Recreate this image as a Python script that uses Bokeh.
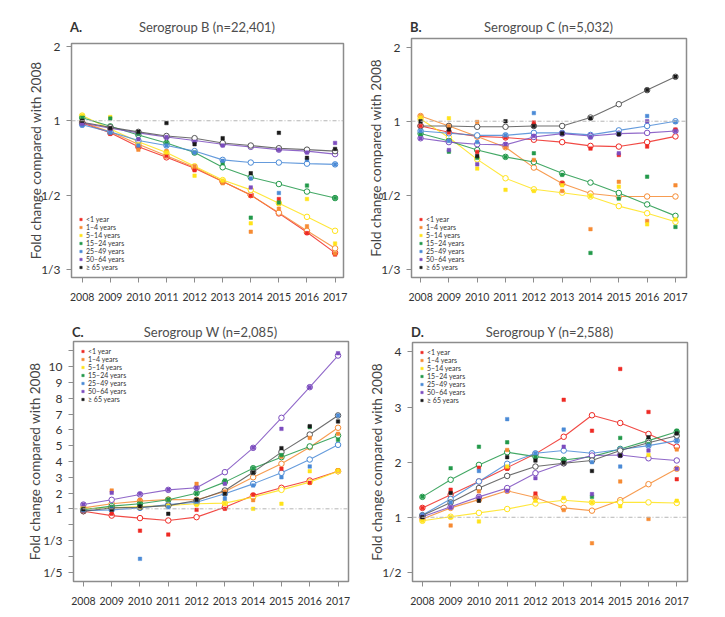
import numpy as np
from bokeh.plotting import figure
from bokeh.models import Range1d, FixedTicker, Span, Legend, LegendItem, Div
from bokeh.layouts import row, column
from bokeh.embed import file_html
from bokeh.resources import INLINE

years = [2008, 2009, 2010, 2011, 2012, 2013, 2014, 2015, 2016, 2017]
groups = ["<1 year", "1–4 years", "5–14 years", "15–24 years", "25–49 years", "50–64 years", "≥ 65 years"]
colors = ["#EE2A24", "#F68B33", "#FFE31A", "#22994A", "#4A8AD6", "#7C4DBF", "#1a1a1a"]
line_colors = ["#EE2A24", "#F68B33", "#FFE31A", "#22994A", "#4A8AD6", "#7C4DBF", "#555555"]

# ---- Panel A: Serogroup B (fold change vs 2008) ----
b_fit_u1 = [0.97, 0.86, 0.74, 0.67, 0.61, 0.55, 0.50, 0.445, 0.40, 0.36]
b_fit_1_4 = [0.98, 0.87, 0.76, 0.68, 0.615, 0.55, 0.50, 0.447, 0.403, 0.368]
b_fit_5_14 = [1.07, 0.90, 0.78, 0.70, 0.62, 0.556, 0.518, 0.474, 0.436, 0.403]
b_fit_15_24 = [1.04, 0.93, 0.84, 0.77, 0.70, 0.615, 0.568, 0.54, 0.512, 0.49]
b_fit_25_49 = [0.95, 0.87, 0.79, 0.75, 0.71, 0.655, 0.64, 0.64, 0.634, 0.63]
b_fit_50_64 = [0.97, 0.91, 0.86, 0.82, 0.79, 0.76, 0.74, 0.72, 0.71, 0.69]
b_fit_65 = [0.98, 0.92, 0.87, 0.83, 0.81, 0.77, 0.75, 0.73, 0.72, 0.71]
b_obs_u1 = [0.97, 0.85, 0.74, 0.68, 0.60, 0.547, 0.498, 0.487, 0.398, 0.357]
b_obs_1_4 = [1.01, 0.90, 0.72, 0.71, 0.62, 0.543, 0.401, 0.458, 0.413, 0.359]
b_obs_5_14 = [1.07, 1.05, 0.76, 0.70, 0.575, 0.554, 0.42, 0.473, 0.487, 0.377]
b_obs_15_24 = [1.04, 1.03, 0.85, 0.77, 0.70, 0.636, 0.434, 0.476, 0.534, 0.49]
b_obs_25_49 = [0.94, 0.86, 0.75, 0.75, 0.70, 0.65, 0.563, 0.507, 0.655, 0.63]
b_obs_50_64 = [0.96, 0.90, 0.80, 0.82, 0.78, 0.75, 0.527, 0.72, 0.70, 0.77]
b_obs_65 = [1.00, 0.91, 0.87, 0.97, 0.76, 0.81, 0.586, 0.86, 0.667, 0.725]

# ---- Panel B: Serogroup C ----
c_fit_u1 = [0.94, 0.87, 0.83, 0.82, 0.80, 0.78, 0.75, 0.745, 0.78, 0.83]
c_fit_1_4 = [1.07, 0.94, 0.83, 0.74, 0.615, 0.543, 0.506, 0.496, 0.496, 0.496]
c_fit_5_14 = [1.03, 0.82, 0.66, 0.565, 0.521, 0.509, 0.496, 0.466, 0.446, 0.424]
c_fit_15_24 = [0.857, 0.79, 0.72, 0.675, 0.645, 0.587, 0.547, 0.508, 0.471, 0.439]
c_fit_25_49 = [0.884, 0.86, 0.84, 0.84, 0.864, 0.864, 0.844, 0.89, 0.94, 1.0]
c_fit_50_64 = [0.813, 0.78, 0.763, 0.758, 0.825, 0.857, 0.834, 0.857, 0.864, 0.884]
c_fit_65 = [0.94, 0.94, 0.93, 0.93, 0.94, 0.94, 1.05, 1.23, 1.42, 1.60]
c_obs_u1 = [0.94, 0.867, 0.707, 0.82, 0.982, 0.545, 0.73, 0.687, 0.745, 0.90]
c_obs_1_4 = [1.07, 0.937, 0.99, 0.74, 0.657, 0.515, 0.407, 0.55, 0.426, 0.536]
c_obs_5_14 = [1.05, 1.04, 0.61, 0.519, 0.515, 0.536, 0.498, 0.531, 0.418, 0.43]
c_obs_15_24 = [0.85, 0.709, 0.669, 0.675, 0.698, 0.58, 0.36, 0.489, 0.572, 0.412]
c_obs_25_49 = [0.884, 0.79, 0.78, 0.84, 1.11, 0.864, 0.828, 0.86, 1.07, 0.99]
c_obs_50_64 = [0.813, 0.72, 0.632, 0.763, 0.834, 0.857, 0.82, 0.698, 1.0, 0.884]
c_obs_65 = [1.0, 0.90, 0.68, 1.0, 0.94, 0.857, 1.04, 0.85, 1.42, 1.60]

# ---- Panel C: Serogroup W ----
w_fit_u1 = [0.87, 0.70, 0.63, 0.575, 0.655, 1.1, 1.84, 2.33, 2.79, 3.38]
w_fit_1_4 = [1.06, 1.32, 1.49, 1.59, 1.57, 2.10, 3.0, 3.85, 4.90, 6.13]
w_fit_5_14 = [1.0, 1.06, 1.15, 1.21, 1.32, 1.36, 1.74, 2.2, 2.69, 3.38]
w_fit_15_24 = [0.94, 1.17, 1.32, 1.57, 1.99, 2.69, 3.57, 4.27, 4.95, 5.64]
w_fit_25_49 = [0.90, 0.94, 1.06, 1.27, 1.42, 1.95, 2.58, 3.28, 4.12, 5.05]
w_fit_50_64 = [1.27, 1.57, 1.91, 2.2, 2.33, 3.32, 4.86, 6.76, 8.70, 10.70]
w_fit_65 = [0.87, 1.06, 1.1, 1.2, 1.53, 2.16, 3.32, 4.59, 5.70, 6.91]
w_obs_u1 = [0.87, 0.76, 0.42, 0.38, 0.94, 1.0, 1.89, 3.53, 2.65, 3.43]
w_obs_1_4 = [1.0, 2.16, 1.57, 1.57, 2.58, 2.1, 1.55, 4.3, 5.49, 5.75]
w_obs_5_14 = [1.06, 1.06, 1.1, 1.2, 1.28, 1.36, 1.0, 1.32, 3.38, 3.43]
w_obs_15_24 = [0.94, 1.1, 1.32, 1.57, 1.99, 2.79, 3.57, 4.4, 6.17, 5.37]
w_obs_25_49 = [0.9, 1.0, 0.24, 1.1, 1.45, 1.63, 2.48, 3.0, 3.68, 6.9]
w_obs_50_64 = [1.27, 2.01, 1.95, 2.2, 2.33, 2.58, 4.86, 6.06, 8.7, 10.85]
w_obs_65 = [0.97, 0.95, 1.15, 0.76, 1.57, 1.95, 3.3, 4.84, 6.23, 6.53]

# ---- Panel D: Serogroup Y ----
y_fit_u1 = [1.17, 1.41, 1.65, 1.9, 2.15, 2.46, 2.85, 2.71, 2.51, 2.28]
y_fit_1_4 = [0.97, 1.17, 1.32, 1.48, 1.36, 1.17, 1.12, 1.31, 1.60, 1.88]
y_fit_5_14 = [0.94, 1.01, 1.08, 1.15, 1.25, 1.31, 1.27, 1.27, 1.27, 1.26]
y_fit_15_24 = [1.37, 1.68, 1.95, 2.18, 2.10, 2.04, 2.10, 2.24, 2.39, 2.55]
y_fit_25_49 = [1.04, 1.33, 1.65, 1.97, 2.16, 2.21, 2.16, 2.23, 2.30, 2.39]
y_fit_50_64 = [1.01, 1.19, 1.37, 1.53, 1.80, 1.98, 2.12, 2.13, 2.07, 2.03]
y_fit_65 = [1.03, 1.27, 1.53, 1.75, 1.92, 1.98, 2.03, 2.21, 2.35, 2.48]
y_obs_u1 = [1.17, 1.5, 1.9, 1.88, 1.43, 3.13, 2.57, 3.69, 2.91, 1.69]
y_obs_1_4 = [0.97, 0.87, 1.47, 2.22, 1.35, 1.13, 0.68, 1.65, 0.97, 2.23]
y_obs_5_14 = [0.94, 1.0, 0.93, 1.92, 1.30, 1.35, 1.27, 1.2, 2.13, 1.3]
y_obs_15_24 = [1.37, 1.89, 2.28, 2.36, 2.1, 2.04, 1.37, 2.44, 2.33, 2.57]
y_obs_25_49 = [1.04, 1.27, 1.84, 2.78, 2.16, 2.59, 2.0, 1.92, 2.3, 2.39]
y_obs_50_64 = [1.01, 1.18, 1.36, 1.48, 1.71, 2.28, 1.42, 2.12, 2.21, 1.88]
y_obs_65 = [1.0, 1.44, 1.30, 2.09, 2.03, 1.99, 1.84, 2.12, 2.45, 2.52]

# y tick values and labels
ab_ticks = [2, 1, 1/2, 1/3]
ab_labels = ["2", "1", "1/2", "1/3"]
w_ticks = [11, 10, 9, 8, 7, 6, 5, 4, 3, 2, 1, 1/2, 1/3, 1/4, 1/5]
w_labels = ["", "10", "9", "8", "7", "6", "5", "4", "3", "2", "1", "", "1/3", "", "1/5"]
yy_ticks = [4, 3, 2, 1, 1/2]
yy_labels = ["4", "3", "2", "1", "1/2"]

FONT = "Lato"


def tf(v):
    """symmetric fold-change scale: x-1 above 1, 1-1/x below 1"""
    v = np.asarray(v, dtype=float)
    return np.round(np.where(v >= 1, v - 1, 1 - 1 / v), 6)


def header(letter, title, w, l, r, top, hh):
    html = (
        f'<div style="position:relative;width:{w}px;height:{hh}px;font-family:Lato,sans-serif;">'
        f'<span style="position:absolute;left:{l - 1}px;top:{top}px;font-size:13px;line-height:14px;'
        f'font-weight:bold;color:#333333;">{letter}</span>'
        f'<span style="position:absolute;left:{l}px;width:{w - l - r}px;top:{top}px;font-size:13px;'
        f'line-height:14px;text-align:center;color:#4d4d4d;white-space:nowrap;">{title}</span>'
        '</div>'
    )
    return Div(text=html, width=w, height=hh, margin=0)


def panel(letter, title, fits, obs, yticks, ylabels, xr, yr, size, borders,
          leg_loc, ylab_standoff, head_top, hh):
    w, h = size
    l, r, t, b = borders
    p = figure(width=w, height=h - hh, x_range=Range1d(*xr), y_range=Range1d(*yr),
               output_backend="svg", toolbar_location=None, title=None,
               min_border_left=l, min_border_right=r, min_border_top=t - hh,
               min_border_bottom=b)
    p.outline_line_color = "#8c8c8c"
    p.outline_line_width = 1.5
    p.grid.visible = False
    p.background_fill_color = "white"

    xa = p.below[0]
    ya = p.left[0]
    for ax in (xa, ya):
        ax.axis_line_color = None
        ax.major_tick_line_color = "#8c8c8c"
        ax.major_tick_out = 5
        ax.major_tick_in = 0
        ax.minor_tick_line_color = None
        ax.major_label_text_font = FONT
        ax.major_label_text_color = "#333333"
    xa.major_label_text_font_size = "10.5px"
    ya.major_label_text_font_size = "12px"
    xa.ticker = FixedTicker(ticks=years)
    xa.major_label_standoff = 10
    tpos = [float(v) for v in tf(yticks)]
    ya.ticker = FixedTicker(ticks=tpos)
    ya.major_label_overrides = {tv: lab for tv, lab in zip(tpos, ylabels)}
    ya.major_label_standoff = 6
    ya.axis_label = "Fold change compared with 2008"
    ya.axis_label_text_font = FONT
    ya.axis_label_text_font_size = "13.5px"
    ya.axis_label_text_font_style = "normal"
    ya.axis_label_text_color = "#444444"
    ya.axis_label_standoff = ylab_standoff

    p.add_layout(Span(location=0, dimension="width", line_color="#b5b5b5",
                      line_dash="4 2 1 2", line_width=1))

    for f, c, lc in zip(fits, colors, line_colors):
        p.line(years, tf(f), line_color=lc, line_width=1.1, line_alpha=0.85)
        p.scatter(years, tf(f), marker="circle", size=5.5, fill_color="white",
                  line_color=lc, line_width=1)
    obs_r = []
    for o, c in zip(obs, colors):
        obs_r.append(p.scatter(years, tf(o), marker="square", size=3.5,
                               fill_color=c, line_color=c, line_width=0.5))

    items = [LegendItem(label=g, renderers=[rr]) for g, rr in zip(groups, obs_r)]
    leg = Legend(items=items, location=leg_loc, margin=6, padding=0, spacing=0,
                 label_height=6, glyph_height=6, glyph_width=7, label_standoff=2,
                 label_text_font=FONT, label_text_font_size="7px",
                 label_text_line_height=0.9,
                 label_text_color="#333333", background_fill_alpha=0,
                 border_line_color=None)
    p.add_layout(leg)
    return column(header(letter, title, w, l, r, head_top, hh), p, spacing=0)


pA = panel("A.", "Serogroup B (n=22,401)",
           [b_fit_u1, b_fit_1_4, b_fit_5_14, b_fit_15_24, b_fit_25_49, b_fit_50_64, b_fit_65],
           [b_obs_u1, b_obs_1_4, b_obs_5_14, b_obs_15_24, b_obs_25_49, b_obs_50_64, b_obs_65],
           ab_ticks, ab_labels, (2007.62, 2017.30), (-2.11, 1.04), (362, 308), (71, 19, 43, 31),
           "bottom_left", -6, 20, 36)
pB = panel("B.", "Serogroup C (n=5,032)",
           [c_fit_u1, c_fit_1_4, c_fit_5_14, c_fit_15_24, c_fit_25_49, c_fit_50_64, c_fit_65],
           [c_obs_u1, c_obs_1_4, c_obs_5_14, c_obs_15_24, c_obs_25_49, c_obs_50_64, c_obs_65],
           ab_ticks, ab_labels, (2007.68, 2017.39), (-2.11, 1.117), (360, 308), (49, 36, 38, 31),
           "bottom_left", -6, 20, 36)
pC = panel("C.", "Serogroup W (n=2,085)",
           [w_fit_u1, w_fit_1_4, w_fit_5_14, w_fit_15_24, w_fit_25_49, w_fit_50_64, w_fit_65],
           [w_obs_u1, w_obs_1_4, w_obs_5_14, w_obs_15_24, w_obs_25_49, w_obs_50_64, w_obs_65],
           w_ticks, w_labels, (2007.65, 2017.37), (-4.6, 10.59), (362, 305), (73, 14, 33, 32),
           "top_left", -3, 17, 32)
pD = panel("D.", "Serogroup Y (n=2,588)",
           [y_fit_u1, y_fit_1_4, y_fit_5_14, y_fit_15_24, y_fit_25_49, y_fit_50_64, y_fit_65],
           [y_obs_u1, y_obs_1_4, y_obs_5_14, y_obs_15_24, y_obs_25_49, y_obs_50_64, y_obs_65],
           yy_ticks, yy_labels, (2007.65, 2017.38), (-1.165, 3.17), (360, 305), (50, 35, 34, 32),
           "top_left", -6, 17, 32)

layout = column(row(pA, pB, spacing=0), row(pC, pD, spacing=0), spacing=0)
open("out.html", "w").write(file_html(layout, INLINE))
